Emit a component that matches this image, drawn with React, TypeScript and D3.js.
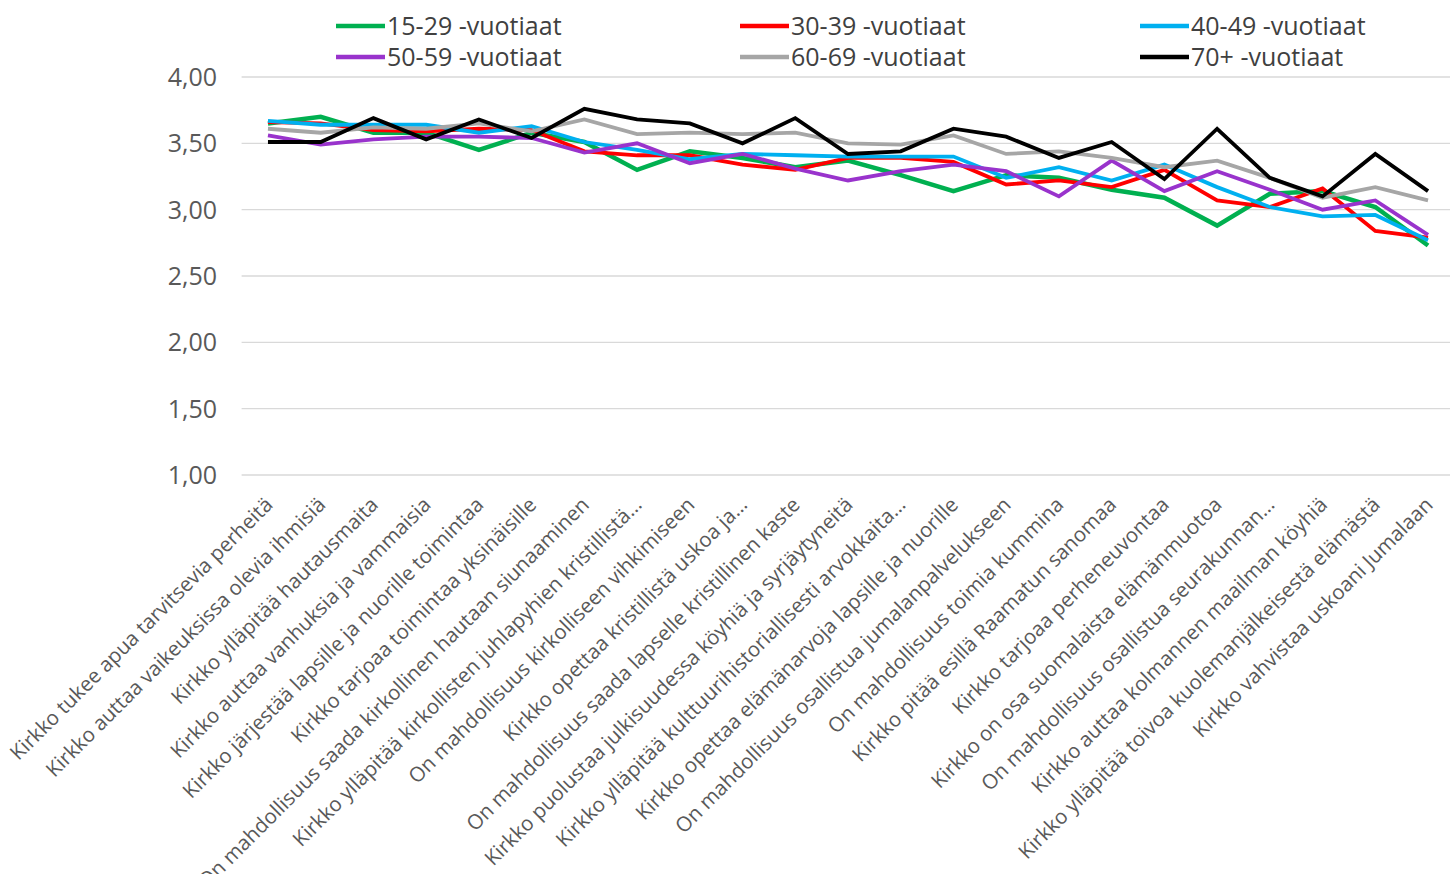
import React from "react";
import * as d3 from "d3";

const categories = [
  "Kirkko tukee apua tarvitsevia perheitä",
  "Kirkko auttaa vaikeuksissa olevia ihmisiä",
  "Kirkko ylläpitää hautausmaita",
  "Kirkko auttaa vanhuksia ja vammaisia",
  "Kirkko järjestää lapsille ja nuorille toimintaa",
  "Kirkko tarjoaa toimintaa yksinäisille",
  "On mahdollisuus saada kirkollinen hautaan siunaaminen",
  "Kirkko ylläpitää kirkollisten juhlapyhien kristillistä…",
  "On mahdollisuus kirkolliseen vihkimiseen",
  "Kirkko opettaa kristillistä uskoa ja…",
  "On mahdollisuus saada lapselle kristillinen kaste",
  "Kirkko puolustaa julkisuudessa köyhiä ja syrjäytyneitä",
  "Kirkko ylläpitää kulttuurihistoriallisesti arvokkaita…",
  "Kirkko opettaa elämänarvoja lapsille ja nuorille",
  "On mahdollisuus osallistua jumalanpalvelukseen",
  "On mahdollisuus toimia kummina",
  "Kirkko pitää esillä Raamatun sanomaa",
  "Kirkko tarjoaa perheneuvontaa",
  "Kirkko on osa suomalaista elämänmuotoa",
  "On mahdollisuus osallistua seurakunnan…",
  "Kirkko auttaa kolmannen maailman köyhiä",
  "Kirkko ylläpitää toivoa kuolemanjälkeisestä elämästä",
  "Kirkko vahvistaa uskoani Jumalaan",
];

const seriesNames = [
  "15-29 -vuotiaat",
  "30-39 -vuotiaat",
  "40-49 -vuotiaat",
  "50-59 -vuotiaat",
  "60-69 -vuotiaat",
  "70+ -vuotiaat",
];

const seriesColors = ["#00b050", "#ff0000", "#00b0f0", "#9933cc", "#a6a6a6", "#000000"];

const v15_29 = [3.65, 3.70, 3.58, 3.58, 3.45, 3.58, 3.51, 3.30, 3.44, 3.39, 3.32, 3.37, 3.26, 3.14, 3.26, 3.24, 3.15, 3.09, 2.88, 3.12, 3.14, 3.02, 2.73];
const v30_39 = [3.66, 3.65, 3.60, 3.59, 3.61, 3.60, 3.44, 3.41, 3.41, 3.34, 3.30, 3.39, 3.39, 3.36, 3.19, 3.22, 3.17, 3.30, 3.07, 3.02, 3.16, 2.84, 2.79];
const v40_49 = [3.67, 3.64, 3.64, 3.64, 3.58, 3.63, 3.51, 3.45, 3.38, 3.42, 3.41, 3.40, 3.40, 3.40, 3.24, 3.32, 3.22, 3.34, 3.17, 3.02, 2.95, 2.96, 2.77];
const v50_59 = [3.56, 3.49, 3.53, 3.55, 3.55, 3.54, 3.43, 3.50, 3.35, 3.42, 3.31, 3.22, 3.29, 3.34, 3.29, 3.10, 3.37, 3.14, 3.29, 3.15, 3.00, 3.07, 2.81];
const v60_69 = [3.61, 3.58, 3.62, 3.61, 3.65, 3.59, 3.68, 3.57, 3.58, 3.57, 3.58, 3.50, 3.49, 3.56, 3.42, 3.44, 3.39, 3.32, 3.37, 3.24, 3.09, 3.17, 3.07];
const v70 = [3.51, 3.51, 3.69, 3.53, 3.68, 3.54, 3.76, 3.68, 3.65, 3.50, 3.69, 3.42, 3.44, 3.61, 3.55, 3.39, 3.51, 3.23, 3.61, 3.24, 3.10, 3.42, 3.14];

const seriesValues = [v15_29, v30_39, v40_49, v50_59, v60_69, v70];

const yTicks = [1, 1.5, 2, 2.5, 3, 3.5, 4];

const W = 1450;
const H = 874;
const FONT = "'Open Sans', sans-serif";

export default function App() {
  const plotLeft = 241.6;
  const plotRight = 1454.4;
  const x = d3
    .scaleBand<string>()
    .domain(categories)
    .range([plotLeft, plotRight])
    .paddingInner(0)
    .paddingOuter(0);
  const cx = (c: string) => (x(c) as number) + x.bandwidth() / 2;
  const y = d3.scaleLinear().domain([1, 4]).range([475, 77]);

  const line = d3
    .line<number>()
    .x((_, i) => cx(categories[i]))
    .y((d) => y(d));

  const fmt = (v: number) => v.toFixed(2).replace(".", ",");

  const legendX = [336, 740, 1140];
  const legendY = [26, 57];

  return (
    <svg
      width={W}
      height={H}
      style={{ position: "absolute", left: 0, top: 0, background: "#fff" }}
    >
      {yTicks.map((t) => (
        <g key={t}>
          <line x1={plotLeft} x2={W} y1={y(t)} y2={y(t)} stroke="#d9d9d9" strokeWidth={1.3} />
          <text
            x={217}
            y={y(t)}
            dy="0.36em"
            textAnchor="end"
            fontFamily={FONT}
            fontSize={25}
            fill="#595959"
          >
            {fmt(t)}
          </text>
        </g>
      ))}

      {categories.map((c) => (
        <text
          key={c}
          transform={`translate(${cx(c) + 6},${506}) rotate(-45)`}
          textAnchor="end"
          fontFamily={FONT}
          fontSize={20.5}
          fill="#595959"
        >
          {c}
        </text>
      ))}

      {seriesValues.map((vals, si) => (
        <path
          key={si}
          d={line(vals) as string}
          fill="none"
          stroke={seriesColors[si]}
          strokeWidth={si === 0 ? 4.5 : 3.8}
          strokeLinejoin="miter"
        />
      ))}

      {seriesNames.map((n, i) => {
        const lx = legendX[i % 3];
        const ly = legendY[Math.floor(i / 3)];
        return (
          <g key={n}>
            <line x1={lx} x2={lx + 49} y1={ly} y2={ly} stroke={seriesColors[i]} strokeWidth={4.5} />
            <text
              x={lx + 51}
              y={ly}
              dy="0.36em"
              fontFamily={FONT}
              fontSize={25}
              fill="#404040"
            >
              {n}
            </text>
          </g>
        );
      })}
    </svg>
  );
}
